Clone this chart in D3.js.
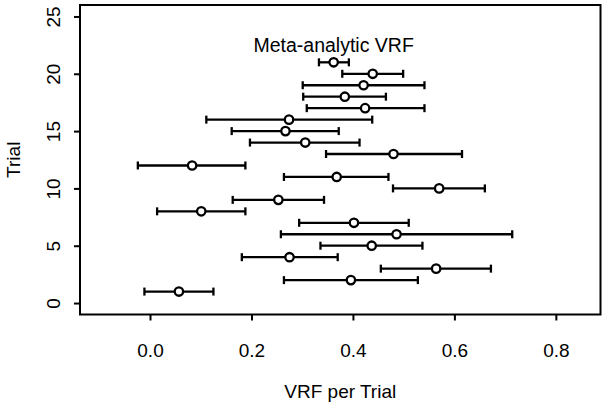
<!DOCTYPE html>
<html>
<head>
<meta charset="utf-8">
<script src="https://cdn.jsdelivr.net/npm/d3@7"></script>
<style>
  body { margin: 0; background: #fff; }
  text { font-family: "Liberation Sans", Arial, sans-serif; fill: #000; }
</style>
</head>
<body>
<div id="chart"></div>
<script>
// trial number (row), estimate and CI bounds
var trials = [1, 2, 3, 4, 5, 6, 7, 8, 9, 10, 11, 12, 13, 14, 15, 16, 17, 18, 19, 20, 21];
var est = [0.057, 0.396, 0.564, 0.275, 0.437, 0.486, 0.402, 0.101, 0.253, 0.570, 0.368,
           0.083, 0.480, 0.306, 0.267, 0.274, 0.424, 0.384, 0.421, 0.439, 0.362];
var lower = [-0.011, 0.264, 0.455, 0.181, 0.336, 0.258, 0.294, 0.014, 0.163, 0.479, 0.264,
             -0.024, 0.347, 0.197, 0.161, 0.111, 0.309, 0.302, 0.301, 0.379, 0.333];
var upper = [0.125, 0.528, 0.672, 0.370, 0.537, 0.714, 0.510, 0.188, 0.343, 0.660, 0.470,
             0.188, 0.615, 0.413, 0.372, 0.438, 0.541, 0.465, 0.541, 0.499, 0.392];
var xTicks = [0, 0.2, 0.4, 0.6, 0.8];
var yTicks = [0, 5, 10, 15, 20, 25];
var metaLabel = "Meta-analytic VRF";

var W = 602, H = 403,
    m = {top: 5, right: 1.5, bottom: 88.5, left: 80}; // top right bottom left

var rows = trials.map(function (t, i) {
  return {trial: t, est: est[i], lo: lower[i], hi: upper[i]};
});

// R style: xlim c(-0.1, 0.85), ylim c(0, 25), each widened 4%
var x = d3.scaleLinear().domain([-0.138, 0.888]).range([m.left, W - m.right]);
var y = d3.scaleLinear().domain([-1, 26]).range([H - m.bottom, m.top]);

var svg = d3.select("#chart").append("svg")
    .attr("width", W)
    .attr("height", H);

var fs = 19;

// box
svg.append("rect")
    .attr("x", m.left)
    .attr("y", m.top)
    .attr("width", W - m.right - m.left)
    .attr("height", H - m.bottom - m.top)
    .attr("fill", "none")
    .attr("stroke", "#000")
    .attr("stroke-width", 2);

// x axis
var xAxis = svg.append("g")
    .attr("transform", "translate(0," + (H - m.bottom) + ")")
    .call(d3.axisBottom(x).tickValues(xTicks).tickSize(6).tickPadding(23)
      .tickFormat(d3.format(".1f")));
xAxis.select(".domain").remove();
xAxis.selectAll("line").attr("stroke-width", 2);
xAxis.selectAll("text")
    .attr("font-size", fs)
    .attr("font-family", "Liberation Sans, Arial, sans-serif");

// y axis, labels turned like R's las=0
var yAxis = svg.append("g")
    .attr("transform", "translate(" + m.left + ",0)")
    .call(d3.axisLeft(y).tickValues(yTicks).tickSize(6));
yAxis.select(".domain").remove();
yAxis.selectAll("line").attr("stroke-width", 2);
yAxis.selectAll("text")
    .attr("x", null).attr("dy", null)
    .attr("text-anchor", "middle")
    .attr("font-size", fs)
    .attr("font-family", "Liberation Sans, Arial, sans-serif")
    .attr("transform", "translate(-20,0) rotate(-90)");

// axis titles
svg.append("text")
    .attr("x", (m.left + W - m.right) / 2)
    .attr("y", 398)
    .attr("text-anchor", "middle")
    .attr("font-size", fs)
    .text("VRF per Trial");

svg.append("text")
    .attr("transform", "translate(20," + ((m.top + H - m.bottom) / 2) + ") rotate(-90)")
    .attr("text-anchor", "middle")
    .attr("font-size", fs)
    .text("Trial");

// CI bars
var g = svg.append("g").attr("stroke", "#000").attr("stroke-width", 2.3);

g.selectAll(".ci")
    .data(rows)
    .enter().append("line")
    .attr("x1", function (d) { return x(d.lo); })
    .attr("x2", function (d) { return x(d.hi); })
    .attr("y1", function (d) { return y(d.trial); })
    .attr("y2", function (d) { return y(d.trial); });

// end ticks
var ends = [];
rows.forEach(function (d) { ends.push({v: d.lo, t: d.trial}, {v: d.hi, t: d.trial}); });
g.selectAll(".cap")
    .data(ends)
    .enter().append("line")
    .attr("x1", function (d) { return x(d.v); })
    .attr("x2", function (d) { return x(d.v); })
    .attr("y1", function (d) { return y(d.t) - 4; })
    .attr("y2", function (d) { return y(d.t) + 4; });

// point estimates
g.selectAll(".pt")
    .data(rows)
    .enter().append("circle")
    .attr("cx", function (d) { return x(d.est); })
    .attr("cy", function (d) { return y(d.trial); })
    .attr("r", 4.2)
    .attr("fill", "#fff");

// meta label over the last row
var meta = rows[rows.length - 1];
svg.append("text")
    .attr("x", x(meta.est))
    .attr("y", y(meta.trial) - 10.5)
    .attr("text-anchor", "middle")
    .attr("font-size", 19.5)
    .text(metaLabel);
</script>
</body>
</html>
